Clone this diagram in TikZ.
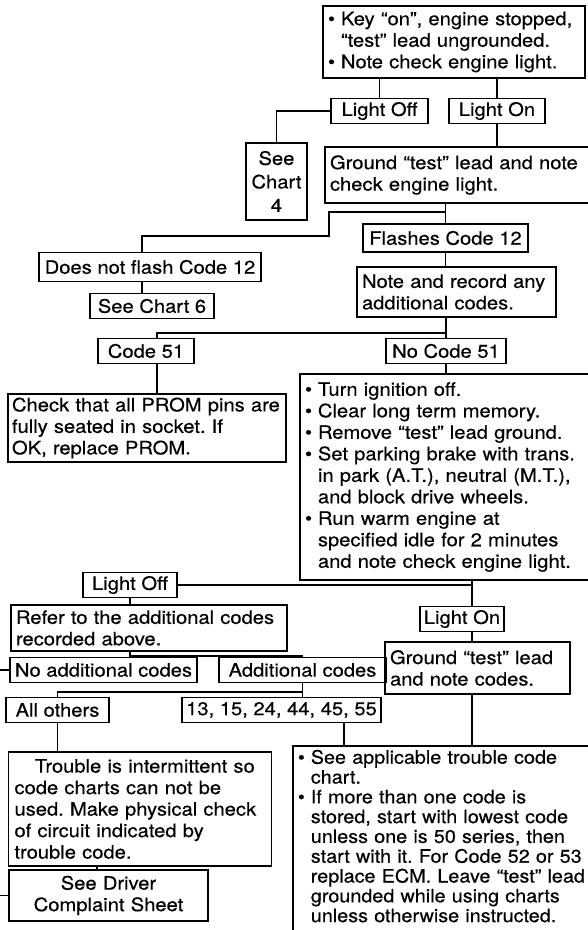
\documentclass[tikz,border=0pt]{standalone}
\usepackage{fontspec}
\setmainfont{TeX Gyre Heros}[FakeStretch=1.09, FakeBold=0.4]
\newfontfamily\narrowfont{TeX Gyre Heros}[Ligatures=TeX, FakeStretch=1.07, FakeBold=0.4]
\usetikzlibrary{positioning, calc}
\setlength{\parindent}{0pt}
\frenchspacing
\newcommand{\chartfont}{\fontsize{18.5}{21.5}\selectfont}
\newcommand{\bul}{\makebox[0.7em][l]{\textbullet}}
\newcommand{\ind}{\hspace*{0.7em}}
\tikzset{
    box/.style={rectangle, draw, line width=1.8pt, inner xsep=5pt, inner ysep=2pt, align=left, font=\chartfont},
    cbox/.style={box, align=center},
    tag/.style={rectangle, draw, line width=1.8pt, inner xsep=2pt, inner ysep=2pt, minimum height=25pt, font=\chartfont},
    link/.style={line width=1.8pt}
}

\begin{document}
\begin{tikzpicture}[x=1pt, y=-1pt]
    \useasboundingbox (0,0) rectangle (588,930);

    % Columns for off-centre connectors
    \coordinate (colA) at (142,0);
    \coordinate (colC) at (157,0);
    \coordinate (colD) at (472,0);
    \coordinate (colH) at (97,0);
    \coordinate (colI) at (344,0);

    % First checks
    \node (key) at (454,42) [box, text width=252pt, minimum height=72pt] {\bul Key ``on'', engine stopped,\\ \ind ``test'' lead ungrounded.\\ \bul Note check engine light.};
    \node (lightoff) at (379.5,111) [tag, minimum width=97pt] {Light Off};
    \node (lighton) at (497,111) [tag, minimum width=96pt] {Light On};
    \node (chart4) at (276.5,181.5) [cbox, text width=51pt, minimum height=77pt] {See\\[2pt]Chart\\[2pt]4};
    \node (ground) at (467.5,175) [box, text width=275pt, minimum height=56pt] {Ground ``test'' lead and note\\check engine light.};

    % Code 12
    \node (flashes) at (445.5,238) [tag, minimum width=165pt, minimum height=28pt] {Flashes Code 12};
    \node (noflash) at (150,267) [tag, minimum width=222pt, minimum height=29pt] {Does not flash Code 12};
    \node (chart6) at (152,306) [tag, minimum width=124pt] {See Chart 6};
    \node (note) at (456.5,292) [box, text width=189pt, minimum height=50pt] {Note and record any\\additional codes.};

    % Code 51
    \node (code51) at (146,351) [tag, minimum width=96pt] {Code 51};
    \node (nocode) at (446,351) [tag, minimum width=120pt] {No Code 51};
    \node (check) at (147,428) [box, inner xsep=4pt, text width=270pt, minimum height=68pt] {Check that all PROM pins are\\fully seated in socket. If\\OK, replace PROM.};
    \node (turn) at (455,477) [box, text width=300pt, minimum height=206pt] {\bul Turn ignition off.\\ \bul Clear long term memory.\\ \bul Remove ``test'' lead ground.\\ \bul Set parking brake with trans.\\ \ind in park (A.T.), neutral (M.T.),\\ \ind and block drive wheels.\\ \bul Run warm engine at\\ \ind specified idle for 2 minutes\\ \ind and note check engine light.};

    % Second light check
    \node (lightoff2) at (130,585) [tag, minimum width=94pt] {Light Off};
    \node (lighton2) at (462,619) [tag, minimum width=84pt] {Light On};
    \node (refer) at (149,628) [box, text width=266pt, minimum height=46pt] {Refer to the additional codes\\recorded above.};
    \node (ground2) at (477.5,668) [box, text width=175pt, minimum height=52pt] {Ground ``test'' lead\\and note codes.};
    \node (noadd) at (103.5,670) [tag, minimum width=187pt] {No additional codes};
    \node (addl) at (302.5,670) [tag, minimum width=167pt] {Additional codes};
    \node (allothers) at (57.5,710) [tag, minimum width=103pt, minimum height=25pt] {All others};
    \node (codes13) at (281.5,710) [tag, minimum width=199pt, minimum height=25pt] {13, 15, 24, 44, 45, 55};

    % Results
    \node (trouble) at (140,809) [box, inner xsep=6pt, text width=251pt, minimum height=114pt] {\hspace*{1.1em}Trouble is intermittent so\\code charts can not be\\used. Make physical check\\of circuit indicated by\\trouble code.};
    \node (driver) at (108.5,895.5) [cbox, text width=189pt, minimum height=51pt] {See Driver\\Complaint Sheet};
    \node (applicable) at (292,745) [box, anchor=north west, inner ysep=4pt, font=\narrowfont\fontsize{18.5}{19.8}\selectfont, text width=308pt] {\bul See applicable trouble code\\ \ind chart.\\ \bul If more than one code is\\ \ind stored, start with lowest code\\ \ind unless one is 50 series, then\\ \ind start with it. For Code 52 or 53\\ \ind replace ECM. Leave ``test'' lead\\ \ind grounded while using charts\\ \ind unless otherwise instructed.\\[20pt]\mbox{}};

    % Junctions
    \coordinate (brk1) at (329,212);
    \coordinate (brk2) at (329,236);
    \coordinate (j2) at (446,333);
    \coordinate (j3) at (130,656);
    \coordinate (j4) at (302.5,692);

    % Connectors
    \draw[link] (lightoff.north) -- (lightoff.north |- key.south);
    \draw[link] (lighton.north) -- (lighton.north |- key.south);
    \draw[link] (lightoff.west) -| (chart4.north);
    \draw[link] (lighton.south) -- (lighton.south |- ground.north);
    \draw[link] (flashes.north) -- (flashes.north |- ground.south);
    \draw[link] (flashes.north |- brk1) -- (brk1) -- (brk2) -| (noflash.north -| colA);
    \draw[link] (noflash.south -| colA) -- (chart6.north -| colA);
    \draw[link] (flashes.south) -- (flashes.south |- note.north);
    \draw[link] (note.south -| nocode) -- (nocode.north);
    \draw[link] (j2) -| (code51.north -| colC);
    \draw[link] (code51.south -| colC) -- (check.north -| colC);
    \draw[link] (nocode.south) -- (turn.north -| nocode);
    \draw[link] (turn.south -| colD) -- (lighton2.north -| colD);
    \draw[link] (lightoff2.east) -- (lightoff2.east -| colD);
    \draw[link] (lightoff2.south) -- (lightoff2.south |- refer.north);
    \draw[link] (lighton2.south -| colD) -- (ground2.north -| colD);
    \draw[link] (refer.south -| lightoff2) -- (noadd.north -| lightoff2);
    \draw[link] (j3) -| (addl.north);
    \draw[link] (noadd.west) -- ++(-20,0) |- (driver.west);
    \draw[link] (addl.south) -- (codes13.north -| addl);
    \draw[link] (j4) -| (allothers.north);
    \draw[link] (allothers.south) -- (allothers.south |- trouble.north);
    \draw[link] (trouble.south -| colH) -- (driver.north -| colH);
    \draw[link] (codes13.south -| colI) -- (applicable.north -| colI);
    \draw[link] (ground2.south -| colD) -- (applicable.north -| colD);
\end{tikzpicture}
\end{document}
